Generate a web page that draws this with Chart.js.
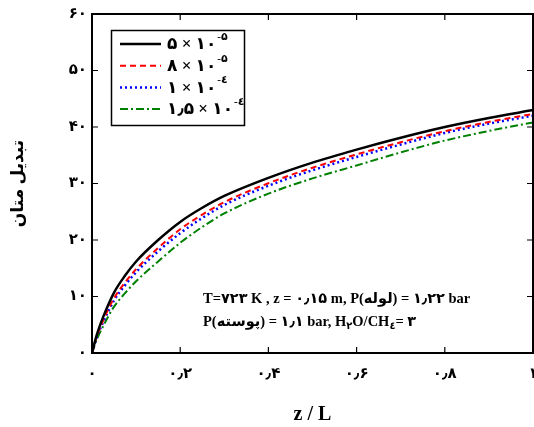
<!DOCTYPE html>
<html>
<head>
<meta charset="utf-8">
<script src="https://cdn.jsdelivr.net/npm/chart.js@4/dist/chart.umd.min.js"></script>
<style>
  html, body { margin: 0; padding: 0; background: #fff; }
</style>
</head>
<body>
<canvas id="chart" width="534" height="427"></canvas>
<script>
// z/L positions and methane conversion for each rate constant
const X_VALUES  = [0, 0.01, 0.025, 0.05, 0.075, 0.1, 0.15, 0.2, 0.25, 0.3, 0.4, 0.5, 0.6, 0.7, 0.8, 0.9, 1.0];
const CONV_5E5  = [0, 3.0, 6.3, 10.7, 13.7, 16.2, 20.0, 23.2, 25.7, 27.8, 31.0, 33.7, 36.0, 38.1, 40.0, 41.6, 43.0];
const CONV_8E5  = [0, 2.7, 5.7, 9.7, 12.5, 14.85, 18.6, 21.9, 24.5, 26.7, 30.05, 32.8, 35.15, 37.3, 39.25, 40.9, 42.3];
const CONV_1E4  = [0, 2.6, 5.4, 9.3, 12.0, 14.3, 18.0, 21.2, 23.9, 26.2, 29.6, 32.35, 34.7, 36.9, 38.95, 40.6, 42.0];
const CONV_15E4 = [0, 2.2, 4.7, 8.2, 10.6, 12.7, 16.2, 19.5, 22.3, 24.7, 28.2, 30.9, 33.2, 35.5, 37.6, 39.3, 40.8];

const LEGEND_MANTISSA = ['۵', '۸', '۱', '۱٫۵'];
const LEGEND_EXPONENT = ['-۵', '-۵', '-٤', '-٤'];
const X_TITLE = 'z / L';
const Y_TITLE = 'تبدیل متان';

const FONT = "'Liberation Serif', 'DejaVu Sans', serif";
const FA_DIGITS = '۰۱۲۳۴۵۶۷۸۹';

function toFa(v) {
  const s = String(Math.round(v * 100) / 100);
  return s.replace(/[0-9]/g, d => FA_DIGITS[+d]).replace('.', '٫');
}

const SERIES = [
  { data: CONV_5E5,  color: '#000000', dash: [],           width: 2.5 },
  { data: CONV_8E5,  color: '#ff0000', dash: [6, 4],       width: 2 },
  { data: CONV_1E4,  color: '#0000ff', dash: [2, 3],       width: 2.5 },
  { data: CONV_15E4, color: '#008000', dash: [8, 3, 2, 3], width: 2 },
];

const framePlugin = {
  id: 'frame',
  afterDraw(chart) {
    const { ctx, chartArea: a } = chart;
    const xs = chart.scales.x, ys = chart.scales.y;
    ctx.save();
    ctx.strokeStyle = '#000';
    ctx.lineWidth = 2;
    ctx.strokeRect(a.left, a.top, a.right - a.left, a.bottom - a.top);

    // inward ticks on all four sides
    ctx.lineWidth = 1.2;
    ctx.beginPath();
    xs.ticks.forEach(t => {
      const px = xs.getPixelForValue(t.value);
      ctx.moveTo(px, a.bottom); ctx.lineTo(px, a.bottom - 6);
      ctx.moveTo(px, a.top);    ctx.lineTo(px, a.top + 6);
    });
    ys.ticks.forEach(t => {
      const py = ys.getPixelForValue(t.value);
      ctx.moveTo(a.left, py);  ctx.lineTo(a.left + 6, py);
      ctx.moveTo(a.right, py); ctx.lineTo(a.right - 6, py);
    });
    ctx.stroke();

    // legend box
    const lx = 111.5, ly = 30.5, lw = 133, lh = 95;
    ctx.lineWidth = 1.5;
    ctx.setLineDash([]);
    ctx.fillStyle = '#fff';
    ctx.fillRect(lx, ly, lw, lh);
    ctx.strokeRect(lx, ly, lw, lh);
    SERIES.forEach((s, i) => {
      const y = 44 + i * 21.7;
      ctx.strokeStyle = s.color;
      ctx.lineWidth = s.width;
      ctx.setLineDash(s.dash);
      ctx.beginPath();
      ctx.moveTo(120, y); ctx.lineTo(161, y);
      ctx.stroke();
      ctx.setLineDash([]);
      ctx.fillStyle = '#000';
      ctx.textBaseline = 'middle';
      ctx.textAlign = 'left';
      ctx.font = `bold 17px ${FONT}`;
      const main = LEGEND_MANTISSA[i] + ' × ۱۰';
      ctx.fillText(main, 167, y + 1);
      const w = ctx.measureText(main).width;
      ctx.font = `bold 11px ${FONT}`;
      ctx.fillText(LEGEND_EXPONENT[i], 167 + w + 1, y - 7);
    });

    // condition annotation
    ctx.fillStyle = '#000';
    ctx.textAlign = 'left';
    ctx.textBaseline = 'middle';
    ctx.font = `bold 14.5px ${FONT}`;
    ctx.fillText('T=۷۲۳ K , z = ۰٫۱۵ m, P(لوله) = ۱٫۲۲ bar', 203, 299);
    let x = 203;
    const parts = [
      ['P(پوسته) = ۱٫۱ bar, H', false],
      ['۲', true],
      ['O/CH', false],
      ['٤', true],
      ['= ۳', false],
    ];
    parts.forEach(([txt, sub]) => {
      ctx.font = sub ? `bold 10px ${FONT}` : `bold 14.5px ${FONT}`;
      ctx.fillText(txt, x, sub ? 326 : 322);
      x += ctx.measureText(txt).width;
    });
    ctx.restore();
  }
};

new Chart(document.getElementById('chart'), {
  type: 'line',
  data: {
    datasets: SERIES.map((s, i) => ({
      data: X_VALUES.map((x, j) => ({ x, y: s.data[j] })),
      borderColor: s.color,
      borderWidth: s.width,
      borderDash: s.dash,
      pointRadius: 0,
      fill: false,
      cubicInterpolationMode: 'monotone',
      order: i,
    }))
  },
  options: {
    responsive: false,
    devicePixelRatio: 1,
    animation: false,
    layout: { padding: { top: 13, right: 1, left: 0, bottom: 0 } },
    plugins: { legend: { display: false }, tooltip: { enabled: false } },
    scales: {
      x: {
        type: 'linear', min: 0, max: 1,
        grid: { display: false, drawTicks: false },
        border: { display: false },
        ticks: {
          stepSize: 0.2, padding: 12, color: '#000', maxRotation: 0,
          font: { family: FONT, size: 15, weight: 'bold' },
          callback: v => toFa(v)
        },
        title: {
          display: true, text: X_TITLE, color: '#000',
          font: { family: FONT, size: 20, weight: 'bold' },
          padding: { top: 14, bottom: 0 }
        },
        afterFit: s => { s.height = 74; s.paddingLeft = 0; s.paddingRight = 0; }
      },
      y: {
        min: 0, max: 60,
        grid: { display: false, drawTicks: false },
        border: { display: false },
        ticks: {
          stepSize: 10, padding: 5, color: '#000',
          font: { family: FONT, size: 15, weight: 'bold' },
          callback: v => toFa(v)
        },
        title: {
          display: true, text: Y_TITLE, color: '#000',
          font: { family: FONT, size: 17, weight: 'bold' },
          padding: { top: 8 }
        },
        afterFit: s => { s.width = 92; }
      }
    }
  },
  plugins: [framePlugin]
});
</script>
</body>
</html>
